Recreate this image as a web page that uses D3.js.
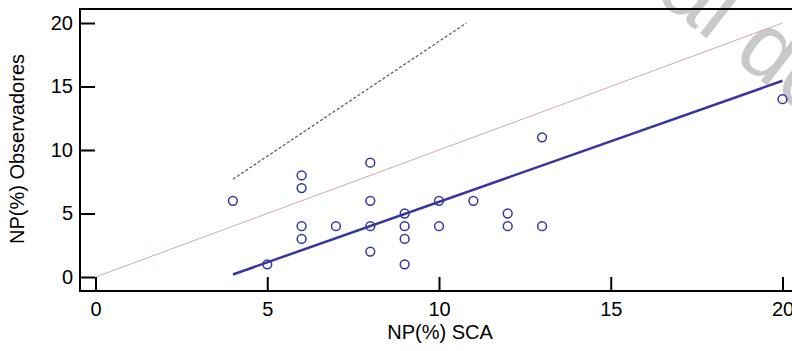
<!DOCTYPE html>
<html>
<head>
<meta charset="utf-8">
<script src="https://cdn.jsdelivr.net/npm/d3@7/dist/d3.min.js"></script>
<style>
  html, body { margin: 0; padding: 0; background: #fff; }
  svg { display: block; font-family: "Liberation Sans", Arial, sans-serif; }
</style>
</head>
<body>
<div id="container"></div>
<script>
var xTicks = [0, 5, 10, 15, 20],
    yTicks = [0, 5, 10, 15, 20],
    sca = [4, 5, 6, 6, 6, 6, 7, 8, 8, 8, 8, 9, 9, 9, 9, 10, 10, 11, 12, 12, 13, 13, 20],
    obs = [6, 1, 8, 7, 4, 3, 4, 9, 6, 4, 2, 5, 4, 3, 1, 6, 4, 6, 5, 4, 11, 4, 14],
    fitX = [4, 20],
    fitY = [0.2, 15.45],
    identityX = [0, 20],
    identityY = [0, 20],
    limitX = [4, 10.8],
    limitY = [7.7, 20];

var width = 792,
    height = 351,
    frame = { left: 80, top: 9, bottom: 291 },
    blue = '#3636a0',
    svg, x, y, line;

svg = d3.select('#container').append('svg')
  .attr('width', width)
  .attr('height', height);

x = d3.scaleLinear().domain([0, 20]).range([95.5, 782.5]);
y = d3.scaleLinear().domain([0, 20]).range([277, 23]);

line = d3.line()
  .x(function (d) { return x(d[0]); })
  .y(function (d) { return y(d[1]); });

function pairs(xs, ys) {
  return xs.map(function (v, i) { return [v, ys[i]]; });
}

// watermark
svg.append('text')
  .attr('transform', 'translate(655,-2) rotate(38)')
  .attr('font-size', 92)
  .attr('fill', '#c9c9c9')
  .text('al de');

// frame
svg.append('path')
  .attr('d', 'M' + (width + 5) + ',' + frame.top + 'H' + frame.left +
             'V' + frame.bottom + 'H' + (width + 5))
  .attr('fill', 'none')
  .attr('stroke', '#000')
  .attr('stroke-width', 2);

// axes, ticks pointing inward
svg.append('g')
  .attr('transform', 'translate(' + frame.left + ',0)')
  .call(d3.axisLeft(y).tickValues(yTicks).tickSizeInner(-15).tickSizeOuter(0).tickPadding(7))
  .call(function (g) { g.select('.domain').remove(); })
  .call(function (g) {
    g.selectAll('line').attr('stroke-width', 2);
    g.selectAll('text').attr('font-size', 20).attr('font-family', null).attr('fill', '#000');
  });

svg.append('g')
  .attr('transform', 'translate(0,' + frame.bottom + ')')
  .call(d3.axisBottom(x).tickValues(xTicks).tickSizeInner(-14).tickSizeOuter(0).tickPadding(11))
  .call(function (g) { g.select('.domain').remove(); })
  .call(function (g) {
    g.selectAll('line').attr('stroke-width', 2);
    g.selectAll('text').attr('font-size', 20).attr('font-family', null).attr('fill', '#000');
  });

// axis titles
svg.append('text')
  .attr('x', 440)
  .attr('y', 339)
  .attr('text-anchor', 'middle')
  .attr('font-size', 20)
  .text('NP(%) SCA');

svg.append('text')
  .attr('transform', 'translate(24,149) rotate(-90)')
  .attr('text-anchor', 'middle')
  .attr('font-size', 20)
  .text('NP(%) Observadores');

// lines
svg.append('path')
  .datum(pairs(identityX, identityY))
  .attr('d', line)
  .attr('fill', 'none')
  .attr('stroke', '#d6a9ab')
  .attr('stroke-width', 1);

svg.append('path')
  .datum(pairs(limitX, limitY))
  .attr('d', line)
  .attr('fill', 'none')
  .attr('stroke', '#555')
  .attr('stroke-width', 1.2)
  .attr('stroke-dasharray', '3,2');

svg.append('path')
  .datum(pairs(fitX, fitY))
  .attr('d', line)
  .attr('fill', 'none')
  .attr('stroke', blue)
  .attr('stroke-width', 2.5);

// points
svg.selectAll('circle')
  .data(pairs(sca, obs))
  .enter()
  .append('circle')
  .attr('cx', function (d) { return x(d[0]); })
  .attr('cy', function (d) { return y(d[1]); })
  .attr('r', 4.4)
  .attr('fill', 'none')
  .attr('stroke', blue)
  .attr('stroke-width', 1.5);
</script>
</body>
</html>
